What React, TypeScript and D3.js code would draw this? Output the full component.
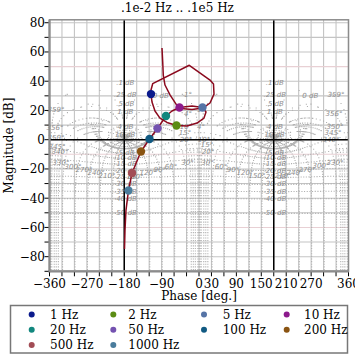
import React from "react";
import * as d3 from "d3";

const W = 355;
const H = 355;

// Open-loop curve (phase deg, magnitude dB)
const curvePhase = [-89.1, -87.4, -86.0, -81.9, -69.8, -53.7, -43.3, -16.9, 9.6, 26.5, 36.1, 34.9, 26.5, -23.4, -111.5, -115.6, -115.6, -113.2, -106.0, -94.0, -77.1, -54.2, -28.9, -4.8, 12.0, 16.9, 8.4, -16.9, -47.0, -65.0, -79.5, -99.9, -119.2, -139.7, -161.3, -169.8, -175.8, -178.2, -179.4];
const curveMag = [62.7, 53.1, 44.0, 37.4, 30.6, 23.7, 21.3, 20.6, 21.6, 25.1, 31.2, 38.1, 40.8, 50.9, 38.3, 34.0, 31.2, 25.8, 19.6, 14.8, 11.8, 9.7, 9.4, 11.4, 14.8, 18.9, 22.0, 23.0, 22.0, 19.6, 16.2, 7.7, 0.5, -8.1, -22.8, -34.7, -48.1, -61.8, -74.7];

const markerLabels = ["1 Hz", "2 Hz", "5 Hz", "10 Hz", "20 Hz", "50 Hz", "100 Hz", "200 Hz", "500 Hz", "1000 Hz"];
const markerPhase = [-115.6, -54.2, 8.4, -47.0, -79.5, -99.9, -119.2, -139.7, -161.3, -169.8];
const markerMag = [31.2, 9.7, 22.0, 22.0, 16.2, 7.7, 0.5, -8.1, -22.8, -34.7];
const markerColors = ["#0b1a8c", "#5b8c14", "#5674a6", "#8c1a8c", "#12877e", "#7452b0", "#115a82", "#8a5412", "#a24c55", "#4a7c9c"];

const xTicks = d3.range(-360, 361, 30);
const xTickLabels = [-360, -270, -180, -90, 0, 30, 90, 150, 210, 270, 360];
const yTicks = d3.range(-90, 81, 10);
const yTickLabels = [-80, -60, -40, -20, 0, 20, 40, 60, 80];
const xGrid = d3.range(-360, 361, 30);
const yGrid = d3.range(-90, 81, 10);
const yPinkGrid = [50, -10, -60];

// Nichols grid contours
const mContoursDb = [0, 0.1, 0.25, 0.5, 1, 4, 10, -5, -10, -15, -20, -25, -30, -35, -40, -50];
const mContourSamples = [54, 54, 54, 54, 48, 30, 24, 56, 56, 56, 56, 56, 56, 56, 56, 56];
const mLabelDb = [0.1, 0.25, 0.5, 1, 4, 10, -5, -10, -15, -20, -25, -30, -35, -40, -50];
const mLabelText = [".1 dB", ".25 dB", ".5 dB", "1 dB", "4 dB", "10 dB", "-5 dB", "-10 dB", "-15 dB", "-20 dB", "-25 dB", "-30 dB", "-35 dB", "-40 dB", "-50 dB"];
const zeroLabelPhase = [-92, 268];
const zeroLabelMag = 30.5;
const nContoursDeg = [1, 4, 10, 15, 20, 30, 60, 90, 120, 150, -1, -4, -10, -15, -20, -30, -60, -90, -120, -150];

const nLabelText = [
  "1°", "4°", "10°", "15°", "20°", "30°",
  "1°", "4°", "10°", "15°", "20°", "30°",
  "359°", "356°", "350°", "345°", "340°", "330°",
  "359°", "356°", "350°", "345°", "340°", "330°",
  "60°", "90°", "120°", "150°", "210°", "240°", "270°", "300°",
  "60°", "90°", "120°", "150°", "210°", "240°", "270°", "300°",
];
const nLabelPhase = [
  -26.5, -26.5, -31.3, -33.7, -31.3, -27.7,
  4.8, 4.8, 12.0, 19.3, 21.7, 20.5,
  -344.3, -346.8, -344.3, -342.0, -334.8, -332.4,
  329.9, 325.1, 327.5, 322.7, 317.9, 327.5,
  -67.4, -93.9, -122.8, -154.1, -221.5, -248.0, -276.9, -303.4,
  53.0, 81.9, 110.8, 139.7, 202.3, 231.2, 260.1, 293.8,
];
const nLabelMag = [
  30.6, 17.6, 8.7, 4.6, -0.2, -15.9,
  20.3, 8.7, -0.2, -3.6, -8.4, -15.9,
  20.3, 8.0, 1.2, -5.0, -8.4, -15.9,
  30.6, 17.6, 8.7, 4.6, -0.2, -15.9,
  -18.7, -20.7, -22.8, -25.5, -24.8, -22.8, -20.7, -18.7,
  -18.7, -20.7, -22.8, -24.8, -24.8, -22.8, -20.7, -18.0,
];

const xs = d3.scaleLinear().domain([-360, 360]).range([49.5, 348.5]);
const ys = d3.scaleLinear().domain([-90, 82]).range([271.3, 19.8]);

function openLoop(tr: number, ti: number): [number, number] | null {
  const d = (1 - tr) * (1 - tr) + ti * ti;
  if (d < 1e-12) return null;
  const re = (tr * (1 - tr) - ti * ti) / d;
  const im = ti / d;
  const mag = 20 * Math.log10(Math.hypot(re, im));
  let ph = (Math.atan2(im, re) * 180) / Math.PI;
  if (ph > 0) ph -= 360;
  return [ph, mag];
}

function gridDots(): string {
  const pts: [number, number][] = [];
  mContoursDb.forEach((db, ci) => {
    const M = Math.pow(10, db / 20);
    const n = mContourSamples[ci];
    for (let k = 0; k < n; k++) {
      const th = ((k + 0.5) / n) * 2 * Math.PI;
      const g = openLoop(M * Math.cos(th), M * Math.sin(th));
      if (g) pts.push(g);
    }
  });
  const rVals: number[] = [];
  for (let t = -4.6; t <= 2.6; t += 0.09) rVals.push(Math.pow(10, t));
  for (let r = 0.8; r <= 1.25; r += 0.03) rVals.push(r);
  nContoursDeg.forEach((deg) => {
    const f = (deg * Math.PI) / 180;
    rVals.forEach((r) => {
      const g = openLoop(r * Math.cos(f), r * Math.sin(f));
      if (g) pts.push(g);
    });
  });
  let s = "";
  pts.forEach(([p, m]) => {
    if (m < -90 || m > 82) return;
    [p, p + 360].forEach((pp) => {
      if (pp < -360 || pp > 360) return;
      const x = xs(pp);
      const y = ys(m);
      s += `M${x.toFixed(1)} ${y.toFixed(1)}h1.1v1.1h-1.1z`;
    });
  });
  return s;
}

export default function App() {
  const dots = React.useMemo(() => gridDots(), []);
  const line = d3
    .line<number>()
    .x((_, i) => xs(curvePhase[i]))
    .y((_, i) => ys(curveMag[i]));
  const curveD = line(curvePhase) || "";
  const x0 = xs(-360), x1 = xs(360), y0 = ys(82), y1 = ys(-90);
  const serif = "DejaVu Serif";
  const lblFont = "DejaVu Sans";
  const legCols = [31.7, 113.3, 204, 286.7];
  const legTextCols = [50, 128.3, 222.7, 304];
  const legRows = [314.5, 329.8, 345.1];

  return (
    <svg width={W} height={H} style={{ position: "absolute", left: 0, top: 0, background: "#fff" }}>
      <defs>
        <clipPath id="plotclip">
          <rect x={x0} y={y0} width={x1 - x0} height={y1 - y0} />
        </clipPath>
      </defs>
      <rect x={0} y={0} width={W} height={H} fill="#fff" />
      {/* grid */}
      <g stroke="#c4c4c4" strokeWidth={1.1}>
        {xGrid.map((v) => (
          <line key={"gx" + v} x1={xs(v)} x2={xs(v)} y1={y0} y2={y1} />
        ))}
        {yGrid.map((v) => (
          <line key={"gy" + v} x1={x0} x2={x1} y1={ys(v)} y2={ys(v)} stroke={yPinkGrid.includes(v) ? "#e8d0d4" : "#c4c4c4"} />
        ))}
      </g>
      {/* Nichols grid dots */}
      <path d={dots} fill="#b0b0b0" clipPath="url(#plotclip)" />
      {/* labels */}
      <g fontFamily={lblFont} fontStyle="italic" fontSize={7} fill="#8e8e8e" textAnchor="middle">
        {mLabelDb.map((db, i) => {
          const M = Math.pow(10, db / 20);
          const mag = db > 0 ? 20 * Math.log10(M / (M - 1)) : 20 * Math.log10(M / (1 + M));
          return [-180, 180].map((p) => (
            <text key={"ml" + i + "_" + p} x={xs(p) + 1} y={ys(mag)} dy="0.35em">
              {mLabelText[i]}
            </text>
          ));
        })}
        {zeroLabelPhase.map((p, i) => (
          <text key={"zl" + i} x={xs(p)} y={ys(zeroLabelMag)} dy="0.35em">
            0 dB
          </text>
        ))}
        {nLabelText.map((t, i) => (
          <text key={"nl" + i} x={xs(nLabelPhase[i])} y={ys(nLabelMag[i])} dy="0.35em">
            {t}
          </text>
        ))}
      </g>
      {/* black axes lines */}
      <g stroke="#000" strokeWidth={1.5}>
        <line x1={xs(-180)} x2={xs(-180)} y1={y0} y2={y1} />
        <line x1={xs(180)} x2={xs(180)} y1={y0} y2={y1} />
        <line x1={x0} x2={x1} y1={ys(0)} y2={ys(0)} />
      </g>
      {/* curve */}
      <path d={curveD} fill="none" stroke="#8b0a1e" strokeWidth={1.5} strokeLinejoin="round" />
      {markerPhase.map((p, i) => (
        <circle key={"mk" + i} cx={xs(p)} cy={ys(markerMag[i])} r={4.2} fill={markerColors[i]} />
      ))}
      {/* frame */}
      <rect x={x0} y={y0} width={x1 - x0} height={y1 - y0} fill="none" stroke="#8c8c8c" strokeWidth={1.5} />
      <line x1={x0} x2={x0} y1={y0} y2={y1 + 1} stroke="#8c8c8c" strokeWidth={2.2} />
      <line x1={x0 - 1} x2={x1} y1={y1} y2={y1} stroke="#8c8c8c" strokeWidth={2.2} />
      {/* ticks */}
      <g stroke="#000" strokeWidth={1}>
        {xTicks.map((v) => (
          <line key={"tx" + v} x1={xs(v)} x2={xs(v)} y1={y1 + 1} y2={y1 + 5} />
        ))}
        {yTicks.map((v) => (
          <line key={"ty" + v} x1={x0 - 5} x2={x0 - 1} y1={ys(v)} y2={ys(v)} />
        ))}
      </g>
      <g fontFamily={serif} fontSize={12} fill="#000">
        {xTickLabels.map((v) => (
          <text key={"xl" + v} x={xs(v)} y={288} textAnchor="middle">
            {v < 0 ? "\u2212" + Math.abs(v) : String(v)}
          </text>
        ))}
        {yTickLabels.map((v) => (
          <text key={"yl" + v} x={45} y={ys(v)} dy="0.36em" textAnchor="end">
            {v < 0 ? "\u2212" + Math.abs(v) : String(v)}
          </text>
        ))}
        <text x={177.5} y={12} textAnchor="middle">.1e-2 Hz .. .1e5 Hz</text>
        <text x={xs(0)} y={300} textAnchor="middle">Phase [deg.]</text>
        <text transform={`translate(13,${(y0 + y1) / 2}) rotate(-90)`} textAnchor="middle">Magnitude [dB]</text>
      </g>
      {/* legend */}
      <rect x={10.5} y={305.5} width={337} height={47.5} fill="#fff" stroke="#777" strokeWidth={1.5} />
      <g fontFamily={serif} fontSize={12} fill="#000">
        {markerLabels.map((lab, i) => {
          const row = Math.floor(i / 4);
          const col = i % 4;
          return (
            <g key={"lg" + i}>
              <circle cx={legCols[col]} cy={legRows[row]} r={3} fill={markerColors[i]} />
              <text x={legTextCols[col]} y={legRows[row]} dy="0.36em">
                {lab}
              </text>
            </g>
          );
        })}
      </g>
    </svg>
  );
}
